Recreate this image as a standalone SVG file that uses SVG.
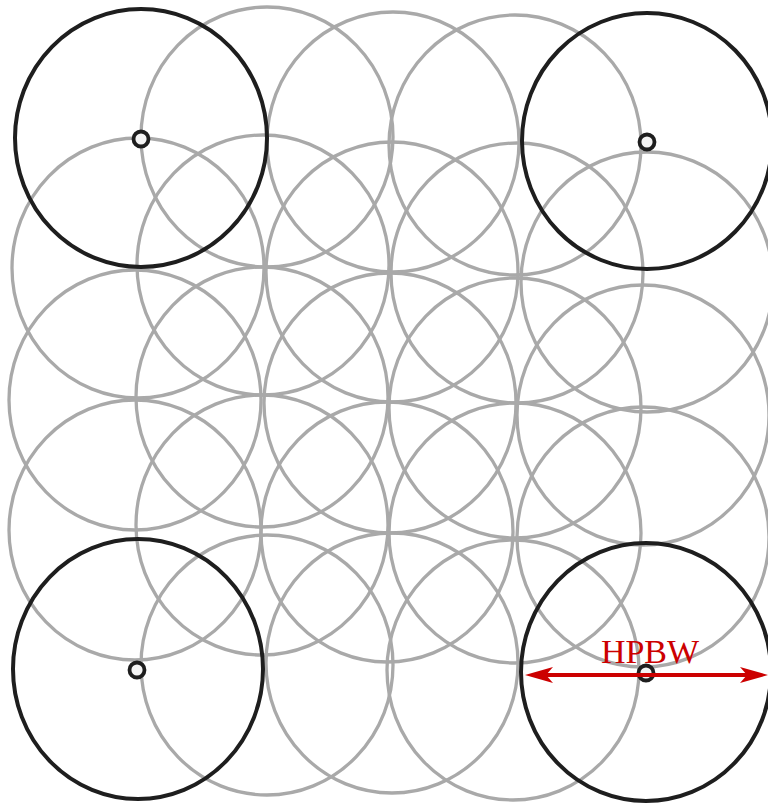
<svg xmlns="http://www.w3.org/2000/svg" width="768" height="806" viewBox="0 0 768 806">
<style>
.g{fill:none;stroke:#a9a9a9;stroke-width:3.3}
.b{fill:none;stroke:#1e1e1e;stroke-width:4}
.c{fill:#f4f4f4;stroke:#1e1e1e;stroke-width:3.8}
.lbl{font-family:"Liberation Serif","Times New Roman",serif;font-size:34px;fill:#cc0000}
</style>
<rect width="768" height="806" fill="#fff"/>
<g id="grid">
<ellipse class="g" cx="267" cy="137" rx="126" ry="130"/>
<ellipse class="g" cx="393" cy="142" rx="126" ry="130"/>
<ellipse class="g" cx="515" cy="145" rx="126" ry="130"/>
<ellipse class="g" cx="138" cy="268" rx="126" ry="130"/>
<ellipse class="g" cx="263" cy="265" rx="126" ry="130"/>
<ellipse class="g" cx="392" cy="272" rx="126" ry="130"/>
<ellipse class="g" cx="517" cy="273" rx="126" ry="130"/>
<ellipse class="g" cx="647" cy="282" rx="126" ry="130"/>
<ellipse class="g" cx="135" cy="400" rx="126" ry="130"/>
<ellipse class="g" cx="262" cy="397" rx="126" ry="130"/>
<ellipse class="g" cx="390" cy="403" rx="126" ry="130"/>
<ellipse class="g" cx="515" cy="408" rx="126" ry="130"/>
<ellipse class="g" cx="643" cy="415" rx="126" ry="130"/>
<ellipse class="g" cx="135" cy="530" rx="126" ry="130"/>
<ellipse class="g" cx="262" cy="525" rx="126" ry="130"/>
<ellipse class="g" cx="387" cy="532" rx="126" ry="130"/>
<ellipse class="g" cx="515" cy="533" rx="126" ry="130"/>
<ellipse class="g" cx="643" cy="537" rx="126" ry="130"/>
<ellipse class="g" cx="267" cy="665" rx="126" ry="130"/>
<ellipse class="g" cx="392" cy="663" rx="126" ry="130"/>
<ellipse class="g" cx="513" cy="670" rx="126" ry="130"/>
</g>
<g id="beam-tl">
<ellipse class="b" cx="141" cy="138" rx="126" ry="129"/>
<circle class="c" cx="141" cy="139" r="7.5"/>
</g>
<g id="beam-tr">
<ellipse class="b" cx="647" cy="141" rx="125" ry="128"/>
<circle class="c" cx="647" cy="142" r="7.5"/>
</g>
<g id="beam-bl">
<ellipse class="b" cx="138" cy="669" rx="125" ry="130"/>
<circle class="c" cx="137" cy="670" r="7.5"/>
</g>
<g id="beam-br">
<ellipse class="b" cx="646" cy="672" rx="125" ry="129"/>
<circle class="c" cx="646" cy="673" r="7.5"/>
</g>
<g id="connectors">
<line x1="540" y1="675" x2="755" y2="675" stroke="#cc0000" stroke-width="4"/>
<polygon points="525,675 553,667 546,675 553,683" fill="#cc0000"/>
<polygon points="768,675 740,667 747,675 740,683" fill="#cc0000"/>
</g>
<text class="lbl" x="650" y="663" text-anchor="middle">HPBW</text>
</svg>
